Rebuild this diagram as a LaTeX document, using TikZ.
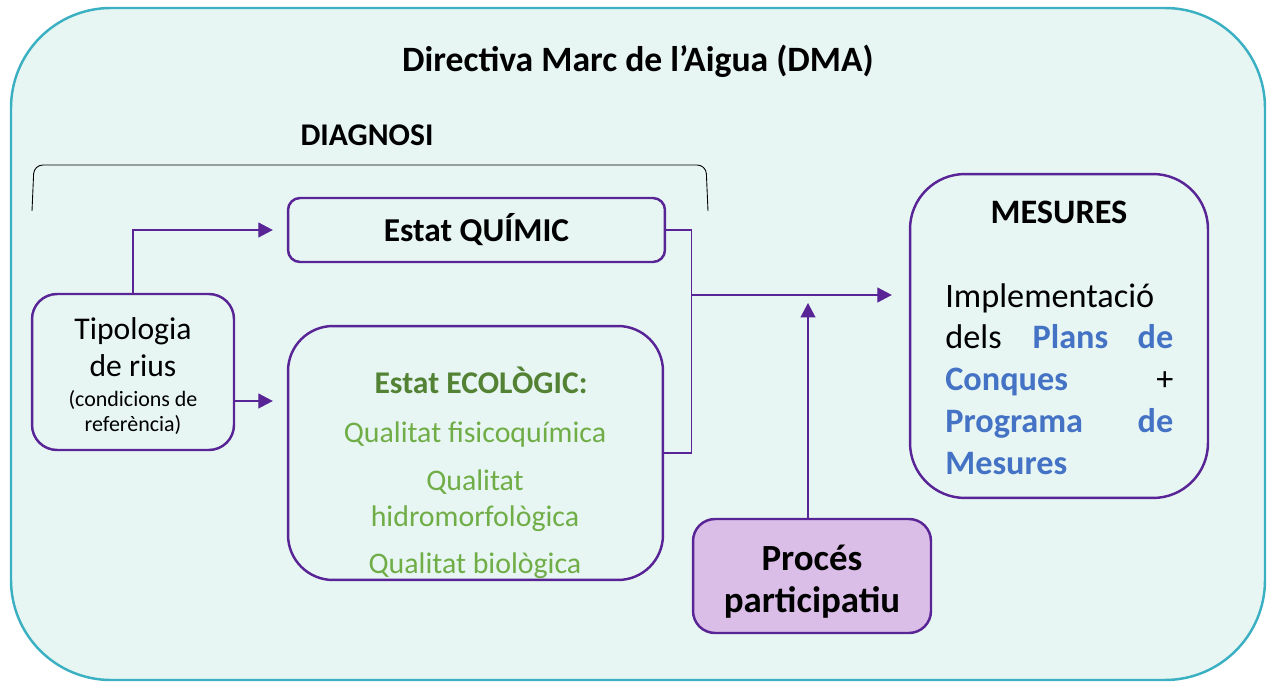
\documentclass[tikz,border=0pt]{standalone}
\usepackage{fontspec}
\setmainfont{Carlito}
\usetikzlibrary{positioning,arrows.meta}

\definecolor{dmateal}{RGB}{59,176,195}
\definecolor{dmabg}{RGB}{231,246,243}
\definecolor{dmapurple}{RGB}{88,36,150}
\definecolor{dmalilac}{RGB}{219,190,232}
\definecolor{ecodark}{RGB}{84,130,53}
\definecolor{ecolight}{RGB}{112,173,71}
\definecolor{planblue}{RGB}{68,114,196}

\begin{document}
\begin{tikzpicture}[
    x=0.02cm, y=-0.02cm,
    box/.style={draw=dmapurple, line width=1.4pt, align=center, inner sep=0pt},
    link/.style={draw=dmapurple, line width=0.7pt},
    arrow/.style={link, -{Triangle[length=0.29cm, width=0.3cm]}},
]
    \useasboundingbox (0,0) rectangle (1268,682);
    \draw[dmateal, fill=dmabg, line width=1.4pt, rounded corners=2cm] (11,8) rectangle (1265,680);

    \node[font=\fontsize{20.3}{24}\selectfont\bfseries, anchor=base] (title) at (638,72) {Directiva Marc de l’Aigua (DMA)};
    \node[font=\fontsize{18}{22}\selectfont\bfseries, anchor=base] (diag) at (367,146) {DIAGNOSI};
    \draw[line width=0.5pt, rounded corners=5pt] (32,211) -- (34,165) -- (706,165) -- (708,211);

    \node[box, rounded corners=0.24cm, minimum width=7.54cm, minimum height=1.28cm, font=\fontsize{19}{23}\selectfont\bfseries] (quimic) at (476.5,230) {Estat QUÍMIC};
    \node[box, rounded corners=0.5cm, minimum width=4.04cm, minimum height=3.12cm, font=\fontsize{18}{21.5}\selectfont] (tipo) at (133,372)
        {\rule{0pt}{17pt}Tipologia\\de rius\\[-4.5pt]{\fontsize{12.5}{14.7}\selectfont (condicions de}\\[-7.3pt]{\fontsize{12.5}{14.7}\selectfont referència)}};
    \node[box, rounded corners=0.9cm, minimum width=7.5cm, minimum height=5.08cm] (eco) at (475.5,453) {};
    \node[font=\fontsize{18}{22}\selectfont\bfseries, text=ecodark, anchor=base] (ecohead) at (481,393) {Estat ECOLÒGIC:};
    \node[font=\fontsize{17}{20.4}\selectfont, text=ecolight, align=center, inner sep=0pt, anchor=north] (ecobody) at (475,421)
        {Qualitat fisicoquímica\\[7.4pt]Qualitat\\hidromorfològica\\[6.2pt]Qualitat biològica};

    \node[box, rounded corners=1.1cm, minimum width=5.96cm, minimum height=6.48cm] (mesures) at (1059,336) {};
    \node[font=\fontsize{19.5}{23}\selectfont\bfseries, anchor=base] (meshead) at (1059,224) {MESURES};
    \node[font=\fontsize{19.5}{23.8}\selectfont, align=left, text width=4.56cm, inner sep=0pt, anchor=north west] (mesbody) at (945,283)
        {Implementació\\
         dels\hspace{0.62cm}\textcolor{planblue}{\textbf{Plans}}\hfill\textcolor{planblue}{\textbf{de}}\\
         \textcolor{planblue}{\textbf{Conques}}\hfill +\\
         \textcolor{planblue}{\textbf{Programa}}\hfill\textcolor{planblue}{\textbf{de}}\\
         \textcolor{planblue}{\textbf{Mesures}}};

    \node[box, fill=dmalilac, rounded corners=0.44cm, minimum width=4.76cm, minimum height=2.28cm, font=\fontsize{21}{24}\selectfont\bfseries] (proces) at (812,576) {\rule{0pt}{21pt}Procés\\participatiu};

    \draw[arrow, shorten >=0.28cm] (tipo.north) |- (quimic.west);
    \draw[arrow, shorten >=0.28cm] ([yshift=-0.58cm]tipo.east) -- ([yshift=-0.58cm]tipo.east -| eco.west);
    \draw[link] (quimic.east) -- ++(25,0) coordinate (brk) |- (eco.east);
    \coordinate (join) at (brk |- 0,295);
    \draw[arrow, shorten >=0.34cm] (join) -- (join -| mesures.west);
    \coordinate (pup) at ([xshift=-0.08cm]proces.north);
    \draw[arrow, shorten >=0.16cm] (pup) -- (pup |- join);
\end{tikzpicture}
\end{document}
